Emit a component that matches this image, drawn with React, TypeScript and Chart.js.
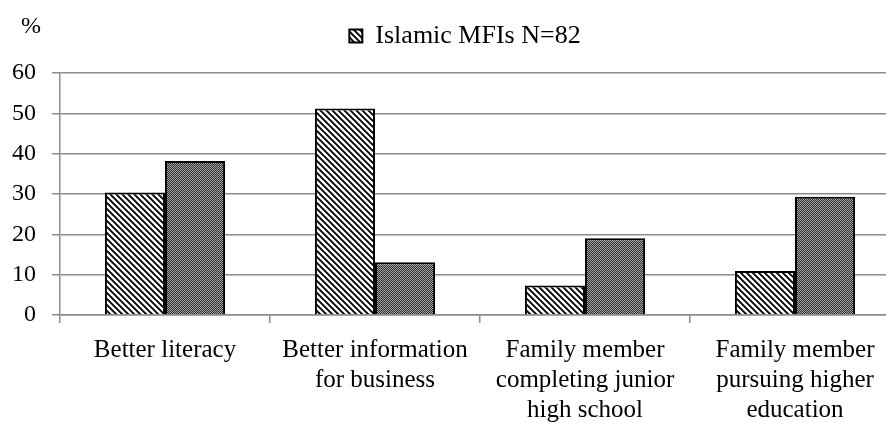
import React, { useEffect, useRef } from "react";
import { Chart, registerables } from "chart.js";

Chart.register(...registerables);

const categories: string[][] = [
  ["Better literacy"],
  ["Better information", "for business"],
  ["Family member", "completing junior", "high school"],
  ["Family member", "pursuing higher", "education"],
];
const islamicLabel = "Islamic MFIs N=82";
const islamicValues = [30.4, 51.2, 7.3, 10.9];
const secondLabel = "Second group";
const secondValues = [38.2, 13.1, 19.0, 29.3];
const yMin = 0;
const yMax = 60;
const yStep = 10;
const yUnit = "%";

const FONT = "'Liberation Serif', 'Times New Roman', serif";

function hatchPattern(): CanvasPattern | string {
  const c = document.createElement("canvas");
  c.width = 6;
  c.height = 6;
  const g = c.getContext("2d")!;
  g.fillStyle = "#ffffff";
  g.fillRect(0, 0, 6, 6);
  g.strokeStyle = "#000000";
  g.lineWidth = 1.9;
  g.beginPath();
  for (let k = -6; k <= 12; k += 6) {
    g.moveTo(k - 1, -1);
    g.lineTo(k + 7, 7);
  }
  g.stroke();
  return g.createPattern(c, "repeat") || "#888";
}

function dotPattern(): CanvasPattern | string {
  const c = document.createElement("canvas");
  c.width = 2;
  c.height = 2;
  const g = c.getContext("2d")!;
  g.fillStyle = "#2e2e2e";
  g.fillRect(0, 0, 2, 2);
  g.fillStyle = "#a6a6a6";
  g.fillRect(0, 0, 1, 1);
  g.fillRect(1, 1, 1, 1);
  return g.createPattern(c, "repeat") || "#666";
}

const unitPlugin = {
  id: "unitLabel",
  afterLayout(chart: any) {
    const lg = chart.legend;
    if (lg) {
      lg.left += 15;
      lg.right += 15;
      lg.top -= 14;
      lg.bottom -= 14;
    }
  },
  afterDraw(chart: any) {
    const { ctx, chartArea } = chart;
    ctx.save();
    ctx.font = `24px ${FONT}`;
    ctx.fillStyle = "#000";
    ctx.textAlign = "center";
    ctx.textBaseline = "middle";
    ctx.fillText(yUnit, chartArea.left - 29, chartArea.top - 46);
    ctx.restore();
  },
};

export default function App() {
  const ref = useRef<HTMLCanvasElement>(null);
  useEffect(() => {
    if (!ref.current) return;
    const chart = new Chart(ref.current, {
      type: "bar",
      data: {
        labels: categories,
        datasets: [
          {
            label: islamicLabel,
            data: islamicValues,
            backgroundColor: hatchPattern() as any,
            borderColor: "#000",
            borderWidth: 2,
            categoryPercentage: 0.572,
            barPercentage: 1,
          },
          {
            label: secondLabel,
            data: secondValues,
            backgroundColor: dotPattern() as any,
            borderColor: "#000",
            borderWidth: 2,
            categoryPercentage: 0.572,
            barPercentage: 1,
          },
        ],
      },
      options: {
        animation: false,
        responsive: true,
        maintainAspectRatio: false,
        layout: { padding: { left: 0, right: 10, top: 27, bottom: 0 } },
        plugins: {
          tooltip: { enabled: false },
          legend: {
            display: true,
            position: "top",
            align: "center",
            labels: {
              color: "#000",
              font: { family: FONT, size: 26 },
              boxWidth: 13,
              boxHeight: 13,
              padding: 10,
              filter: (item: any) => item.datasetIndex === 0,
            },
          },
        },
        scales: {
          x: {
            grid: {
              display: true,
              drawOnChartArea: false,
              drawTicks: true,
              tickLength: 8,
              color: "#8c8c8c",
              lineWidth: 1.5,
              offset: true,
            },
            border: { display: true, color: "#8c8c8c", width: 1.5 },
            ticks: {
              color: "#000",
              font: { family: FONT, size: 25, lineHeight: 1.2 },
              maxRotation: 0,
              autoSkip: false,
              padding: 12,
            },
            afterFit: (s: any) => {
              s.height = 108;
            },
          },
          y: {
            min: yMin,
            max: yMax,
            grid: {
              color: "#8c8c8c",
              lineWidth: 1.5,
              drawTicks: true,
              tickLength: 8,
            },
            border: { display: true, color: "#8c8c8c", width: 1.5 },
            ticks: {
              stepSize: yStep,
              color: "#000",
              font: { family: FONT, size: 24 },
              padding: 16,
            },
            afterFit: (s: any) => {
              s.width = 60;
            },
          },
        },
      },
      plugins: [unitPlugin],
    });
    return () => chart.destroy();
  }, []);
  return (
    <div
      style={{
        position: "fixed",
        left: 0,
        top: 0,
        width: 910,
        height: 423,
        background: "#fff",
      }}
    >
      <canvas ref={ref} />
    </div>
  );
}
